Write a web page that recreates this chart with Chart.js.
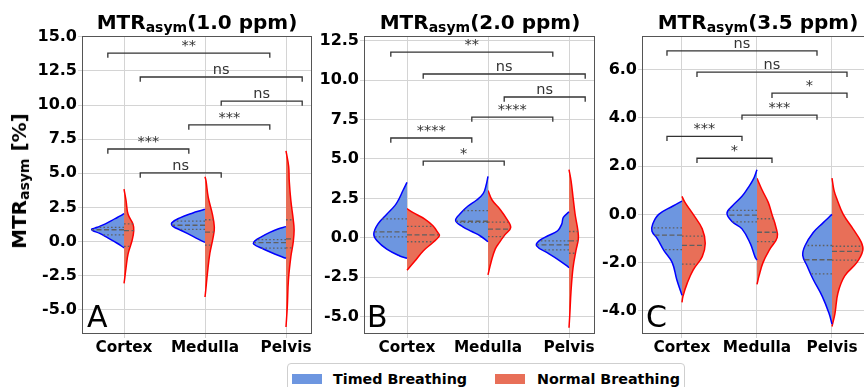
<!DOCTYPE html>
<html>
<head>
<meta charset="utf-8">
<script src="https://cdn.jsdelivr.net/npm/chart.js@4/dist/chart.umd.min.js"></script>
<style>
  html, body { margin: 0; padding: 0; background: #fff; overflow: hidden; }
  body { width: 864px; height: 387px; position: relative; font-family: "DejaVu Sans", sans-serif; }
  canvas { position: absolute; top: 0; }
  .title { position: absolute; top: 12px; transform: translateX(-50%); font-size: 20px; line-height: 20px; font-weight: bold; white-space: nowrap; z-index: 2; }
  .sub { font-size: 14px; position: relative; top: 3px; }
  .letter { position: absolute; top: 302px; font-size: 30px; line-height: 30px; z-index: 2; }
  #ylabel { position: absolute; left: 20px; top: 181px; transform: translate(-50%, -50%) rotate(-90deg); font-size: 20px; line-height: 20px; font-weight: bold; white-space: nowrap; z-index: 2; }
  #legend { position: absolute; left: 287px; top: 363px; width: 396px; height: 32px; border: 1px solid #cfcfcf; border-radius: 4px; background: #fff; z-index: 2; }
  #legend .sw { position: absolute; top: 10px; width: 30px; height: 10px; }
  #legend .tx { position: absolute; top: 7px; font-size: 14.3px; line-height: 16px; font-weight: bold; white-space: nowrap; }
</style>
</head>
<body>
<canvas id="chartA" width="318" height="362" style="left:0px"></canvas>
<canvas id="chartB" width="301" height="362" style="left:300px"></canvas>
<canvas id="chartC" width="290" height="362" style="left:590px"></canvas>

<div class="title" style="left:197px">MTR<span class="sub">asym</span>(1.0 ppm)</div>
<div class="title" style="left:480px">MTR<span class="sub">asym</span>(2.0 ppm)</div>
<div class="title" style="left:758px">MTR<span class="sub">asym</span>(3.5 ppm)</div>
<div id="ylabel">MTR<span class="sub">asym</span> [%]</div>
<div class="letter" style="left:87px">A</div>
<div class="letter" style="left:367px">B</div>
<div class="letter" style="left:646px">C</div>

<div id="legend">
  <span class="sw" style="left:4px;background:#6d96e0"></span>
  <span class="tx" style="left:45px">Timed Breathing</span>
  <span class="sw" style="left:207px;background:#e86f58"></span>
  <span class="tx" style="left:249px">Normal Breathing</span>
</div>

<script>
const categories = ['Cortex', 'Medulla', 'Pelvis'];
const seriesNames = ['Timed Breathing', 'Normal Breathing'];

const yTicksA = [-5, -2.5, 0, 2.5, 5, 7.5, 10, 12.5, 15];
const yTicksB = [-5, -2.5, 0, 2.5, 5, 7.5, 10, 12.5];
const yTicksC = [-4, -2, 0, 2, 4, 6];

// violin outlines: [value, half width] from top to bottom, per category
const timedA = [
  [[2.05, 0], [1.9, .04], [1.68, .11], [1.3, .23], [1.05, .33], [0.88, .40], [0.6, .30], [0.27, .20], [-0.1, .09], [-0.45, 0]],
  [[2.38, 0], [2.3, .04], [2.1, .15], [1.74, .31], [1.38, .41], [1.14, .40], [0.78, .28], [0.42, .16], [0.05, .04], [-0.05, 0]],
  [[1.1, 0], [0.93, .10], [0.68, .20], [0.37, .30], [0.07, .38], [-0.17, .40], [-0.54, .28], [-0.9, .14], [-1.22, 0]]
];
const normalA = [
  [[3.85, 0], [3.0, .025], [2.0, .05], [1.3, .11], [0.8, .12], [0.1, .10], [-0.9, .05], [-1.9, .025], [-2.8, .006], [-3.05, 0]],
  [[4.75, 0], [4.46, .012], [3.24, .04], [2.03, .09], [1.05, .115], [0.31, .10], [-0.85, .06], [-2.3, .03], [-3.5, .01], [-4.05, 0]],
  [[6.65, 0], [5.5, .033], [4.46, .04], [3.0, .06], [1.58, .09], [0.85, .10], [0.0, .09], [-1.1, .06], [-2.8, .03], [-4.76, .016], [-6.25, 0]]
];
const timedB = [
  [[3.52, 0], [3.0, .05], [2.46, .10], [2.04, .15], [1.5, .25], [0.87, .36], [0.24, .41], [-0.19, .37], [-0.72, .25], [-1.15, .09], [-1.3, 0]],
  [[3.9, 0], [3.3, .025], [2.8, .06], [2.4, .14], [2.0, .25], [1.6, .33], [1.1, .40], [0.7, .31], [0.4, .20], [0.1, .09], [-0.25, 0]],
  [[1.65, 0], [1.29, .07], [0.87, .09], [0.45, .14], [0.13, .26], [-0.19, .37], [-0.51, .40], [-0.94, .27], [-1.36, .14], [-1.78, .025], [-1.9, 0]]
];
const normalB = [
  [[1.85, 0], [1.61, .07], [1.19, .22], [0.76, .32], [0.34, .38], [0.13, .40], [-0.3, .32], [-0.83, .20], [-1.46, .10], [-2.05, 0]],
  [[3.0, 0], [2.4, .05], [1.8, .15], [1.2, .23], [0.65, .28], [0.2, .21], [-0.3, .14], [-0.7, .09], [-1.5, .04], [-2.35, 0]],
  [[4.33, 0], [3.63, .025], [2.57, .05], [1.51, .075], [0.45, .11], [-0.08, .115], [-0.83, .085], [-1.89, .05], [-3.38, .025], [-4.86, .01], [-5.7, 0]]
];
const timedC = [
  [[0.55, 0], [0.35, .12], [0.0, .31], [-0.4, .39], [-0.7, .40], [-1.0, .33], [-1.5, .24], [-2.0, .13], [-2.7, .07], [-3.35, 0]],
  [[1.85, 0], [1.45, .05], [1.1, .12], [0.75, .20], [0.35, .33], [0.05, .40], [-0.3, .33], [-0.6, .20], [-1.2, .09], [-1.75, .027], [-1.9, 0]],
  [[0.0, 0], [-0.35, .12], [-0.75, .25], [-1.3, .36], [-1.7, .39], [-2.15, .33], [-2.7, .25], [-3.4, .13], [-4.1, .04], [-4.55, 0]]
];
const normalC = [
  [[0.75, 0], [0.5, .04], [0.0, .15], [-0.6, .27], [-1.2, .31], [-1.75, .27], [-2.3, .15], [-2.85, .07], [-3.4, .013], [-3.65, 0]],
  [[1.5, 0], [1.0, .07], [0.5, .15], [0.0, .20], [-0.5, .25], [-0.95, .27], [-1.45, .17], [-2.0, .08], [-2.55, .027], [-2.9, 0]],
  [[1.5, 0], [1.0, .027], [0.6, .07], [0.0, .15], [-0.6, .28], [-1.15, .39], [-1.5, .41], [-2.0, .33], [-2.55, .17], [-3.25, .08], [-4.1, .04], [-4.65, 0]]
];

// quartiles [Q1, median, Q3]
const timedQA = [[0.5, 0.87, 1.05], [0.9, 1.2, 1.5], [-0.48, -0.07, 0.15]];
const normalQA = [[-0.35, 0.8, 1.3], [-0.25, 0.7, 1.6], [-0.45, 0.2, 1.6]];
const timedQB = [[0.06, 0.38, 1.2], [0.98, 1.05, 1.72], [-0.76, -0.45, -0.2]];
const normalQB = [[-0.25, 0.19, 0.72], [0.08, 0.55, 1.0], [-0.98, -0.19, 0.4]];
const timedQC = [[-1.46, -0.86, -0.56], [-0.31, -0.03, 0.17], [-2.47, -1.88, -1.29]];
const normalQC = [[-2.06, -1.28, -0.9], [-1.13, -0.74, -0.18], [-1.9, -1.53, -1.32]];

// significance: [from group, to group, height, label]; groups 0..5 = Cortex T/N, Medulla T/N, Pelvis T/N
const sigA = [[0, 4, 13.8, '**'], [1, 5, 12.05, 'ns'], [3, 5, 10.29, 'ns'], [2, 4, 8.54, '***'], [0, 2, 6.78, '***'], [1, 3, 5.03, 'ns']];
const sigB = [[0, 4, 11.78, '**'], [1, 5, 10.39, 'ns'], [3, 5, 8.93, 'ns'], [2, 4, 7.66, '****'], [0, 2, 6.33, '****'], [1, 3, 4.87, '*']];
const sigC = [[0, 4, 6.78, 'ns'], [1, 5, 5.9, 'ns'], [3, 5, 5.03, '*'], [2, 4, 4.12, '***'], [0, 2, 3.24, '***'], [1, 3, 2.33, '*']];

const blueFill = '#6d96e0';
const redFill = '#e86f58';

Chart.defaults.font.family = '"DejaVu Sans", sans-serif';

function groupX(g) {
    return Math.floor(g / 2) + (g % 2 ? 0.2 : -0.2);
}

function widthAt(shape, v) {
    for (let i = 0; i < shape.length - 1; i++) {
        const [v0, w0] = shape[i];
        const [v1, w1] = shape[i + 1];
        if (v <= v0 && v >= v1) return w0 + (w1 - w0) * (v0 - v) / (v0 - v1);
    }
    return 0;
}

function violinDatasets(shapes, side, fillColor, edgeColor, label) {
    return shapes.map((shape, c) => ({
        label,
        data: shape.map(([v, w]) => ({ x: c + side * w, y: v })),
        borderColor: edgeColor,
        backgroundColor: fillColor,
        borderWidth: 1.5,
        fill: { value: c },
        tension: 0.4,
        order: 3
    }));
}

function quartileDatasets(shapes, quarts, side) {
    const out = [];
    quarts.forEach((q, c) => {
        q.forEach((v, k) => {
            out.push({
                data: [{ x: c, y: v }, { x: c + side * widthAt(shapes[c], v), y: v }],
                borderColor: '#606060',
                borderWidth: 1.3,
                borderDash: k === 1 ? [5, 2.5] : [1.6, 2.2],
                fill: false,
                tension: 0,
                order: 2
            });
        });
    });
    return out;
}

function bracketDatasets(sig, tick) {
    return sig.map(([g1, g2, y]) => ({
        data: [
            { x: groupX(g1), y: y - tick }, { x: groupX(g1), y },
            { x: groupX(g2), y }, { x: groupX(g2), y: y - tick }
        ],
        borderColor: '#333',
        borderWidth: 1.3,
        fill: false,
        tension: 0,
        order: 1
    }));
}

function BuildPanel(id, p) {
    const tick = (p.yMax - p.yMin) * 0.016;
    const datasets = [
        ...bracketDatasets(p.sig, tick),
        ...quartileDatasets(p.timed, p.timedQ, -1),
        ...quartileDatasets(p.normal, p.normalQ, 1),
        ...violinDatasets(p.timed, -1, blueFill, '#0000ff', seriesNames[0]),
        ...violinDatasets(p.normal, 1, redFill, '#ff0000', seriesNames[1])
    ];

    const framePlugin = {
        id: 'frame',
        afterDraw(chart) {
            const { ctx, chartArea: a } = chart;
            ctx.save();
            ctx.strokeStyle = '#555';
            ctx.lineWidth = 1;
            ctx.strokeRect(a.left + 0.5, a.top + 0.5, a.right - a.left - 1, a.bottom - a.top - 1);
            ctx.restore();
        }
    };

    const sigTextPlugin = {
        id: 'sigText',
        afterDatasetsDraw(chart) {
            const { ctx, scales } = chart;
            ctx.save();
            ctx.fillStyle = '#333';
            ctx.font = '14.5px "DejaVu Sans"';
            ctx.textAlign = 'center';
            ctx.textBaseline = 'alphabetic';
            p.sig.forEach(([g1, g2, y, txt]) => {
                const x = scales.x.getPixelForValue((groupX(g1) + groupX(g2)) / 2);
                ctx.fillText(txt, x, scales.y.getPixelForValue(y) - 3);
            });
            ctx.restore();
        }
    };

    return new Chart(document.getElementById(id), {
        type: 'line',
        data: { datasets },
        options: {
            indexAxis: 'y',
            responsive: false,
            animation: false,
            devicePixelRatio: 1,
            layout: { padding: { top: 36, right: 6, left: 0, bottom: 0 } },
            elements: { point: { radius: 0 } },
            plugins: { legend: { display: false }, tooltip: { enabled: false } },
            scales: {
                x: {
                    type: 'linear',
                    min: p.xMin,
                    max: p.xMax,
                    afterFit: s => { s.height = 28; },
                    afterBuildTicks: s => { s.ticks = categories.map((c, i) => ({ value: i })); },
                    ticks: {
                        callback: v => categories[v],
                        color: '#000',
                        font: { size: 15.3, weight: 'bold' },
                        padding: 1,
                        autoSkip: false,
                        maxRotation: 0
                    },
                    grid: { color: '#d4d4d4', tickLength: 4 },
                    border: { display: false }
                },
                y: {
                    type: 'linear',
                    min: p.yMin,
                    max: p.yMax,
                    afterFit: s => { s.width = p.yWidth; },
                    afterBuildTicks: s => { s.ticks = p.yTicks.map(v => ({ value: v })); },
                    ticks: {
                        callback: v => v.toFixed(1),
                        color: '#000',
                        font: { size: 16, weight: 'bold' },
                        padding: 1
                    },
                    grid: { color: '#d4d4d4', tickLength: 4 },
                    border: { display: false }
                }
            }
        },
        plugins: [framePlugin, sigTextPlugin]
    });
}

BuildPanel('chartA', {
    timed: timedA, normal: normalA, timedQ: timedQA, normalQ: normalQA, sig: sigA,
    yTicks: yTicksA, yMin: -6.76, yMax: 15.05, xMin: -0.519, xMax: 2.321, yWidth: 82
});
BuildPanel('chartB', {
    timed: timedB, normal: normalB, timedQ: timedQB, normalQ: normalQB, sig: sigB,
    yTicks: yTicksB, yMin: -6.1, yMax: 12.8, xMin: -0.531, xMax: 2.321, yWidth: 64
});
BuildPanel('chartC', {
    timed: timedC, normal: normalC, timedQ: timedQC, normalQ: normalQC, sig: sigC,
    yTicks: yTicksC, yMin: -4.96, yMax: 7.4, xMin: -0.533, xMax: 2.56, yWidth: 52
});
</script>
</body>
</html>
